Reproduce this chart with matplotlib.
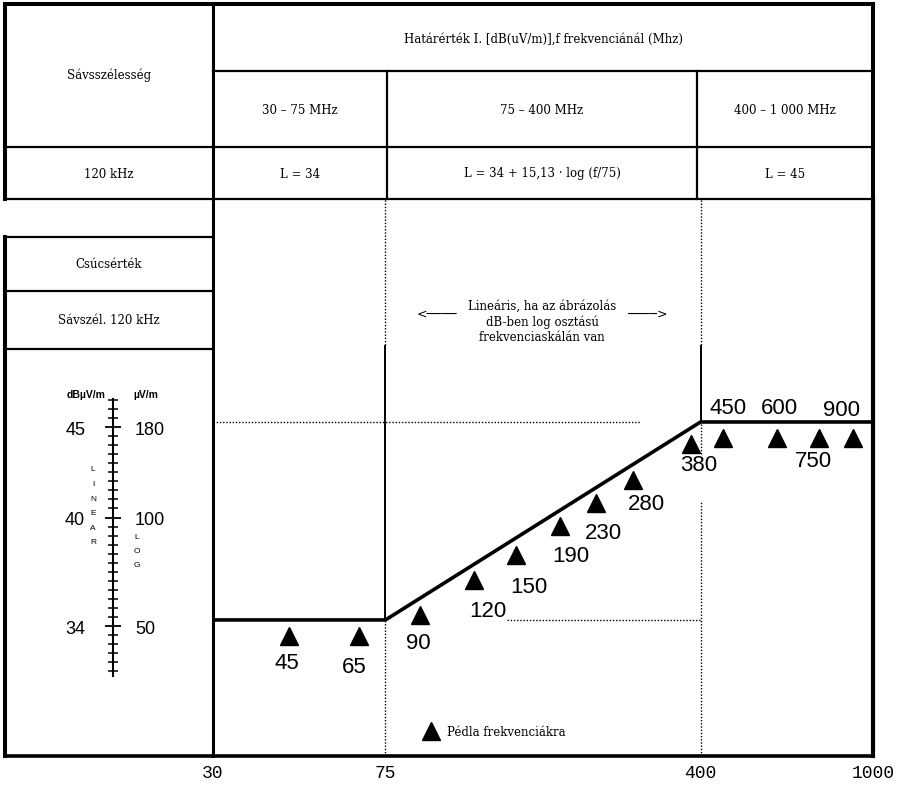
import matplotlib
matplotlib.use("Agg")
import matplotlib.pyplot as plt
from matplotlib.ticker import MultipleLocator, NullLocator

W, H = 902, 803
SERIF = "DejaVu Serif"
SANS = "Liberation Sans"

# limit line L(f)
limit_freq = [30, 75, 400, 1000]
limit_db = [34, 34, 45, 45]

# example frequencies (triangles)
example_freq = [45, 65, 90, 120, 150, 190, 230, 280, 380, 450, 600, 750, 900]
example_db = [33.1, 33.1, 34.3, 36.2, 37.6, 39.2, 40.5, 41.8, 43.8, 44.1, 44.1, 44.1, 44.1]

freq_ticks = [30, 75, 400, 1000]
freq_tick_labels = ["30", "75", "400", "1000"]

scale_db_ticks = [34, 40, 45]
scale_db_labels = ["34", "40", "45"]
scale_uv_labels = ["50", "100", "180"]

band_labels = ["30 – 75 MHz", "75 – 400 MHz", "400 – 1 000 MHz"]
band_formulas = ["L = 34", "L = 34 + 15,13 · log (f/75)", "L = 45"]

# label offsets (pixels) for the triangle labels
label_offset = {45: (-2, -26), 65: (-4, -30), 90: (-1, -28), 120: (14, -30),
                150: (13, -31), 190: (10, -29), 230: (7, -30), 280: (13, -24),
                380: (8, -21), 450: (5, 31), 600: (3, 31), 750: (-5, -22),
                900: (-12, 29)}

fig = plt.figure(figsize=(W / 100, H / 100), dpi=100)

# background layer in pixel coordinates for the table
bg = fig.add_axes([0, 0, 1, 1])
bg.set_xlim(0, W)
bg.set_ylim(H, 0)
bg.axis("off")

THICK, MID = 2.9, 1.6


def hline(y, x0, x1, lw=MID):
    bg.plot([x0, x1], [y, y], color="black", lw=lw, solid_capstyle="projecting")


def vline(x, y0, y1, lw=MID):
    bg.plot([x, x], [y0, y1], color="black", lw=lw, solid_capstyle="projecting")


hline(5, 5, 873, THICK)
vline(5, 5, 200, THICK)
vline(5, 238, 757, THICK)
vline(873, 5, 200, THICK)
vline(213, 5, 200, 2.2)
hline(72, 213, 873)
hline(148, 5, 873)
hline(200, 5, 873)
vline(387, 72, 200)
vline(697, 72, 200)
hline(238, 5, 213)
hline(292, 5, 213)
hline(350, 5, 213)
hline(757, 5, 213, 2.6)

tkw = dict(ha="center", va="center", family=SERIF, fontsize=8.5)
bg.text(109, 75, "Sávsszélesség", **tkw)
bg.text(543, 39, "Határérték I. [dB(uV/m)],f frekvenciánál (Mhz)", **tkw)
for xc, band, form in zip([300, 542, 785], band_labels, band_formulas):
    bg.text(xc, 110, band, **tkw)
    bg.text(xc, 174, form, **tkw)
bg.text(109, 174, "120 kHz", **tkw)
bg.text(109, 265, "Csúcsérték", **tkw)
bg.text(109, 321, "Sávszél. 120 kHz", **tkw)
bg.text(542, 322, "Lineáris, ha az ábrázolás\ndB-ben log osztású\nfrekvenciaskálán van",
        linespacing=1.2, **tkw)
bg.text(437, 314, "<────", ha="center", va="center", family="DejaVu Sans", fontsize=9)
bg.text(647, 314, "────>", ha="center", va="center", family="DejaVu Sans", fontsize=9)

# left scale headers and letters
bg.text(86, 395, "dBµV/m", ha="center", va="center", family=SANS, fontsize=7.5, weight="bold")
bg.text(146, 395, "µV/m", ha="center", va="center", family=SANS, fontsize=7.5, weight="bold")
for i, ch in enumerate("LINEAR"):
    bg.text(93, 470 + 14.6 * i, ch, ha="center", va="center", family=SANS, fontsize=6)
for i, ch in enumerate("LOG"):
    bg.text(137, 538 + 14 * i, ch, ha="center", va="center", family=SANS, fontsize=6)

# main chart
ax = fig.add_axes([213 / W, 46 / H, 660 / W, 557 / H])
ax.set_facecolor("none")
ax.set_xscale("log")
ax.set_xlim(30, 1000)
ax.set_ylim(26.44, 57.39)
ax.xaxis.set_minor_locator(NullLocator())
ax.set_yticks([])
ax.set_xticks(freq_ticks, freq_tick_labels, family="Liberation Mono", fontsize=13)
ax.tick_params(axis="x", length=0, pad=6)
ax.spines["top"].set_visible(False)
ax.spines["left"].set_linewidth(2.2)
ax.spines["bottom"].set_linewidth(2.6)
ax.spines["right"].set_linewidth(3.0)

dot = dict(color="black", lw=1.0, linestyle=(0, (1, 1.3)))
top, bottom = ax.get_ylim()[1], ax.get_ylim()[0]
ax.vlines(75, 49.3, top, **dot)
ax.vlines(75, 34, 49.3, color="black", lw=1.4)
ax.vlines(75, bottom, 34, **dot)
ax.vlines(400, 49.3, top, **dot)
ax.vlines(400, 45, 49.3, color="black", lw=1.4)
ax.vlines(400, 43.2, 45, **dot)
ax.vlines(400, bottom, 40.6, **dot)
ax.hlines(45, 30, 290, **dot)
ax.hlines(34, 143, 400, **dot)

ax.plot(limit_freq, limit_db, color="black", lw=2.6, solid_joinstyle="miter")
tri, = ax.plot(example_freq, example_db, "^", ms=13, color="black", ls="none",
               label="Pédla frekvenciákra")
for f, d in zip(example_freq, example_db):
    ax.annotate(str(f), (f, d), xytext=label_offset[f], textcoords="offset pixels",
                ha="center", va="center", family=SANS, fontsize=16)

ax.legend(handles=[tri], loc="center left", bbox_to_anchor=(0.321, (757 - 733) / 557),
          frameon=False, handlelength=1.0, handletextpad=0.9, borderpad=0,
          borderaxespad=0, prop={"family": SERIF, "size": 8.5})

# left dB / uV/m scale
sc = fig.add_axes([113 / W, (H - 677) / H, 1 / W, 277 / H])
sc.set_facecolor("none")
sc.set_ylim(31.24, 46.55)
sc.set_xticks([])
for s in ("top", "bottom", "right"):
    sc.spines[s].set_visible(False)
sc.spines["left"].set_linewidth(1.5)
sc.set_yticks(scale_db_ticks, scale_db_labels, family=SANS, fontsize=13)
sc.yaxis.set_minor_locator(MultipleLocator(0.5))
sc.tick_params(axis="y", which="major", direction="inout", length=12, width=1.3, pad=14)
sc.tick_params(axis="y", which="minor", direction="inout", length=7, width=1.1)

sc2 = sc.twinx()
sc2.set_ylim(sc.get_ylim())
for s in sc2.spines.values():
    s.set_visible(False)
sc2.set_yticks(scale_db_ticks, scale_uv_labels, family=SANS, fontsize=13)
sc2.tick_params(axis="y", length=0, pad=15)

fig.savefig("out.png", dpi=100)
